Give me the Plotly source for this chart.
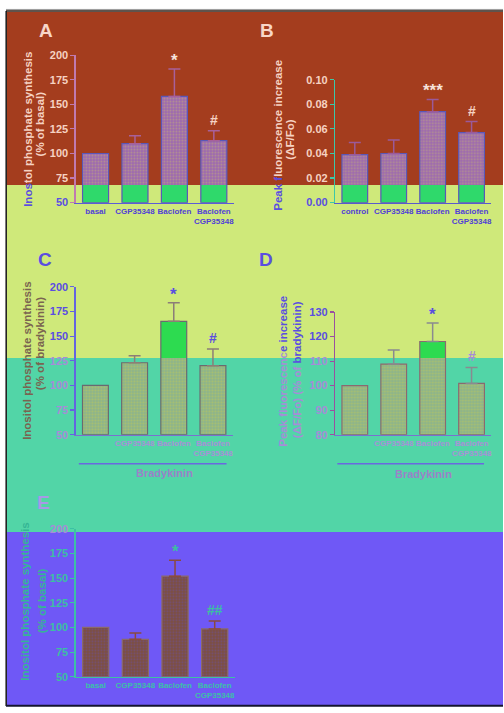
import plotly.graph_objects as go

W, H = 504, 713

# ---------------- data ----------------
cats = ["basal", "CGP35348", "Baclofen", "Baclofen+CGP35348"]
xt_A = ["basal", "CGP35348", "Baclofen", "Baclofen<br>CGP35348"]
xt_B = ["control", "CGP35348", "Baclofen", "Baclofen<br>CGP35348"]
xt_CD = ["", "CGP35348", "Baclofen", "Baclofen<br>CGP35348"]

ip_basal = [100, 110, 158, 113]
ip_basal_err = [0, 8, 28, 10]
sig_A = ["", "", "*", "#"]

fl_peak = [0.039, 0.040, 0.074, 0.057]
fl_peak_err = [0.010, 0.011, 0.010, 0.009]
sig_B = ["", "", "***", "#"]

ip_brady = [100, 123, 165, 120]
ip_brady_err = [0, 7, 19, 17]
sig_C = ["", "", "*", "#"]

fl_brady = [100, 108.8, 118, 100.9]
fl_brady_err = [0, 5.7, 7.5, 6.5]
sig_D = ["", "", "*", "#"]

ip_E = [100, 88, 152, 98.5]
ip_E_err = [0, 6.5, 16, 8]
sig_E = ["", "", "*", "##"]

yt_ip = [50, 75, 100, 125, 150, 175, 200]
yt_fl = [0.00, 0.02, 0.04, 0.06, 0.08, 0.10]
yt_D = [80, 90, 100, 110, 120, 130]

# ---------------- style ----------------
FONT = "Liberation Sans, Arial, sans-serif"
BANDS = [(6, 182, "#A43D1E", "#F6D2C2"),
         (182, 358, "#CFE97A", "#5A4EE0"),
         (358, 535, "#52D5A7", "#A68CD8"),
         (535, 711, "#6F58F6", "#3CBFA3")]


def band_text(py):
    for a, b, bg, tc in BANDS:
        if a <= py < b:
            return tc
    return BANDS[-1][3]


def px(x):
    return x / W


def py(y):
    return 1 - y / H


fig = go.Figure()
shapes = []
annotations = []

# background bands
for a, b, bg, tc in BANDS:
    shapes.append(dict(type="rect", xref="paper", yref="paper", x0=px(7), x1=1,
                       y0=py(b), y1=py(a), fillcolor=bg, line_width=0, layer="below"))
shapes.append(dict(type="line", xref="paper", yref="paper", x0=px(6), x1=1, y0=py(3.5), y1=py(3.5),
                   line=dict(color="#9a9a9a", width=1), layer="below"))
shapes.append(dict(type="line", xref="paper", yref="paper", x0=px(6), x1=1, y0=py(5.2), y1=py(5.2),
                   line=dict(color="#2a1a10", width=1.5), layer="below"))
shapes.append(dict(type="line", xref="paper", yref="paper", x0=px(6.2), x1=px(6.2), y0=py(5), y1=py(712),
                   line=dict(color="#151515", width=1.5), layer="below"))
shapes.append(dict(type="line", xref="paper", yref="paper", x0=px(6), x1=1, y0=py(711.8), y1=py(711.8),
                   line=dict(color="#151530", width=2), layer="below"))

panels = [
    dict(k=1, xd=(76, 234), yd=(50, 200), yr=(50, 200), means=ip_basal, errs=ip_basal_err, sig=sig_A,
         xt=xt_A, yt=yt_ip, fmt="{:d}", split=68, low=("#2FD96B", None), up=("#9C68B0", "#CDBF6A"),
         outline="#5A58B8", axy="#C07AB0", axx="#5C5CD6", err="#A8609A", xtc="#5040D8",
         sigc=["", "", "#F6E2DA", "#F6D2C2"]),
    dict(k=2, xd=(336, 492), yd=(75, 200), yr=(0, 0.1), means=fl_peak, errs=fl_peak_err, sig=sig_B,
         xt=xt_B, yt=yt_fl, fmt="{:.2f}", split=0.0144, low=("#2FD96B", None), up=("#9C68B0", "#CDBF6A"),
         outline="#5A58B8", axy="#3CC8A8", axx="#5A5ACC", err="#9A5A9A", xtc="#5040D8",
         sigc=["", "", "#F6E2DA", "#F6D2C2"]),
    dict(k=3, xd=(76, 233), yd=(285.7, 436), yr=(50, 200), means=ip_brady, errs=ip_brady_err, sig=sig_C,
         xt=xt_CD, yt=yt_ip, fmt="{:d}", split=127.8, low=("#8DB48A", "#C8CC50"), up=("#2DDB50", None),
         outline="#6A6A70", axy="#6464E0", axx="#7A70D0", err="#8C7E78", xtc="#A890D8",
         sigc=["", "", "#5A4EE0", "#5A4EE0"]),
    dict(k=4, xd=(336, 492), yd=(311.3, 436), yr=(80, 130), means=fl_brady, errs=fl_brady_err, sig=sig_D,
         xt=xt_CD, yt=yt_D, fmt="{:d}", split=111.3, low=("#8DB48A", "#C8CC50"), up=("#2DDB50", None),
         outline="#8A6A70", axy="#9A50A0", axx="#7A70D0", err="#8A8A90", xtc="#A890D8",
         sigc=["", "", "#5A4EE0", "#A68CD8"]),
    dict(k=5, xd=(76, 235), yd=(531.7, 682.3), yr=(50, 200), means=ip_E, errs=ip_E_err, sig=sig_E,
         xt=xt_A, yt=yt_ip, fmt="{:d}", split=None, low=("#7C4E40", "#6A52B0"), up=None,
         outline="#8A6A6A", axy="#3DC0A5", axx="#3DC0A5", err="#8A4A40", xtc="#3CC0A8",
         sigc=["", "", "#3CBFA3", "#3CBFA3"]),
]

layout_axes = {}
for p in panels:
    k = p["k"]
    xa = "x" if k == 1 else f"x{k}"
    ya = "y" if k == 1 else f"y{k}"
    y0, y1 = p["yr"]
    top_px, bot_px = p["yd"]

    def v2px(v, y0=y0, y1=y1, top_px=top_px, bot_px=bot_px):
        return bot_px - (v - y0) / (y1 - y0) * (bot_px - top_px)

    means = p["means"]

    def pattern(c):
        if c is None:
            return None
        return dict(shape=".", fgcolor=c, size=3, solidity=0.35, fillmode="overlay")

    if p["split"] is None:
        fig.add_trace(go.Bar(x=cats, y=[m - y0 for m in means], base=[y0] * 4, width=0.66,
                             marker=dict(color=p["low"][0], pattern=pattern(p["low"][1]), line_width=0),
                             xaxis=xa, yaxis=ya, showlegend=False))
    else:
        s = p["split"]
        fig.add_trace(go.Bar(x=cats, y=[min(m, s) - y0 for m in means], base=[y0] * 4, width=0.66,
                             marker=dict(color=p["low"][0], pattern=pattern(p["low"][1]), line_width=0),
                             xaxis=xa, yaxis=ya, showlegend=False))
        fig.add_trace(go.Bar(x=cats, y=[max(m - s, 0) for m in means], base=[s] * 4, width=0.66,
                             marker=dict(color=p["up"][0], pattern=pattern(p["up"][1]), line_width=0),
                             xaxis=xa, yaxis=ya, showlegend=False))
    # outline
    fig.add_trace(go.Bar(x=cats, y=[m - y0 for m in means], base=[y0] * 4, width=0.66,
                         marker=dict(color="rgba(0,0,0,0)", line=dict(color=p["outline"], width=1.2)),
                         xaxis=xa, yaxis=ya, showlegend=False))
    # error bars (upward only)
    ex = [c for c, e in zip(cats, p["errs"]) if e > 0]
    ey = [m for m, e in zip(means, p["errs"]) if e > 0]
    ee = [e for e in p["errs"] if e > 0]
    fig.add_trace(go.Scatter(x=ex, y=ey, mode="markers", marker=dict(size=0.1, color="rgba(0,0,0,0)"),
                             error_y=dict(type="data", array=ee, arrayminus=[0] * len(ee), symmetric=False,
                                          color=p["err"], thickness=1.5, width=6),
                             xaxis=xa, yaxis=ya, showlegend=False, hoverinfo="skip"))
    # significance marks
    for c, m, e, sg, sc in zip(cats, means, p["errs"], p["sig"], p["sigc"]):
        if sg:
            annotations.append(dict(x=c, y=m + e, xref=xa, yref=ya, text=sg, showarrow=False,
                                    yanchor="bottom", yshift=-3 if "*" in sg else 1,
                                    font=dict(family=FONT, size=17 if "*" in sg else 14, color=sc,
                                              weight="bold")))
    ticktext = []
    for v in p["yt"]:
        lab = p["fmt"].format(v) if p["fmt"] != "{:d}" else str(int(v))
        ticktext.append(f"<span style='color:{band_text(v2px(v))}'>{lab}</span>")
    xkey = "xaxis" if k == 1 else f"xaxis{k}"
    ykey = "yaxis" if k == 1 else f"yaxis{k}"
    layout_axes[xkey] = dict(domain=[px(p["xd"][0]), px(p["xd"][1])], anchor=ya, range=[-0.5, 3.5],
                             type="category", categoryorder="array", categoryarray=cats,
                             tickvals=cats, ticktext=p["xt"], ticks="", showline=True, tickangle=0,
                             linecolor=p["axx"], linewidth=1.5, showgrid=False, zeroline=False,
                             tickfont=dict(family=FONT, size=8, color=p["xtc"], weight="bold"),
                             fixedrange=True)
    layout_axes[ykey] = dict(domain=[py(p["yd"][1]), py(p["yd"][0])], anchor=xa, range=list(p["yr"]),
                             tickvals=p["yt"], ticktext=ticktext, ticks="outside", ticklen=4,
                             tickcolor=p["axy"], tickwidth=1.2, showline=True, linecolor=p["axy"],
                             linewidth=1.5, showgrid=False, zeroline=False,
                             tickfont=dict(family=FONT, size=11, weight="bold"), fixedrange=True)


def ann_px(x, y, text, size, color, angle=0, xanchor="center", yanchor="middle"):
    annotations.append(dict(x=px(x), y=py(y), xref="paper", yref="paper", text=text, showarrow=False,
                            textangle=angle, xanchor=xanchor, yanchor=yanchor,
                            font=dict(family=FONT, size=size, color=color, weight="bold")))


PINK, BLUE, LAV, TEAL = "#F6D2C2", "#5A4EE0", "#A68CD8", "#3CBFA3"

# panel letters
ann_px(46, 25, "A", 19, "#F8D6C8")
ann_px(268, 25, "B", 19, "#F8D6C8")
ann_px(45, 258, "C", 19, BLUE)
ann_px(267, 258, "D", 19, BLUE)
ann_px(44, 505, "E", 19, "#A898E8")

# y-axis titles
ann_px(28.5, 125.5, f"<span style='color:{BLUE}'>Inos</span>tol phosphate synthesis", 11.5, PINK, -90)
ann_px(40.5, 120, "(% of basal)", 11.5, PINK, -90)
ann_px(278.5, 131, f"<span style='color:{BLUE}'>Peak f</span>luorescence increase", 11.5, PINK, -90)
ann_px(290.5, 136, "(ΔF/Fo)", 11.5, PINK, -90)
ann_px(27, 361, "Inositol phosphate synthesis", 11.5, "#7A6450", -90)
ann_px(40, 343, "(% of bradykinin)", 11.5, "#7A6450", -90)
ann_px(283.5, 371, f"Peak fluorescenc<span style='color:{BLUE}'>e increase</span>", 11.5, LAV, -90)
ann_px(297, 370, f"(ΔF/Fo) (% of <span style='color:{BLUE}'>bradykinin)</span>", 11.5, LAV, -90)
ann_px(25, 606, "Inositol phosphate synthesis", 11.5, "#35B595", -90)
ann_px(41.5, 605, "(% of basal)", 11.5, "#35B595", -90)

# Bradykinin groupings
shapes.append(dict(type="line", xref="paper", yref="paper", x0=px(79), x1=px(227), y0=py(465.7), y1=py(465.7),
                   line=dict(color="#6A68E0", width=1.5)))
shapes.append(dict(type="line", xref="paper", yref="paper", x0=px(338), x1=px(485), y0=py(465.7), y1=py(465.7),
                   line=dict(color="#6A68E0", width=1.5)))
ann_px(165, 475.5, "Bradykinin", 11, "#9A82C8")
ann_px(424, 476, "Bradykinin", 11, "#9A82C8")

fig.update_layout(width=W, height=H, margin=dict(l=0, r=0, t=0, b=0), paper_bgcolor="white",
                  plot_bgcolor="rgba(0,0,0,0)", barmode="overlay", shapes=shapes, annotations=annotations,
                  showlegend=False, **layout_axes)

fig.write_html("out.html", config={"displayModeBar": False, "staticPlot": True},
               post_script="document.body.style.margin='0';document.body.style.padding='0';"
                           "document.body.style.overflow='hidden';"
                           "document.documentElement.style.overflow='hidden';")
